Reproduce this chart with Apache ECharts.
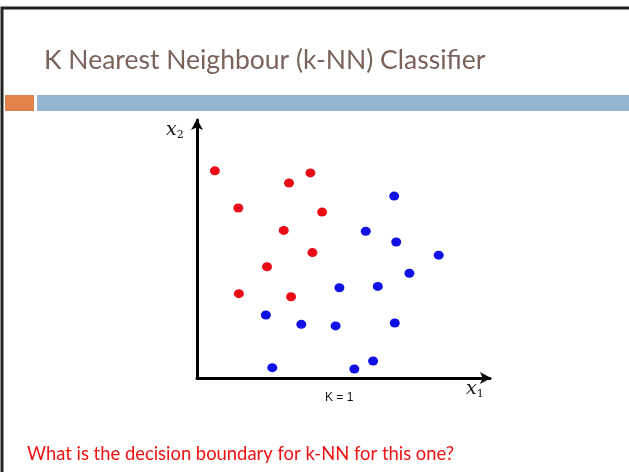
<!DOCTYPE html>
<html>
<head>
<meta charset="utf-8">
<script src="https://cdn.jsdelivr.net/npm/echarts@6/dist/echarts.min.js"></script>
<style>
    html, body { margin: 0; padding: 0; background: #fff; }
    #chart { width: 629px; height: 472px; }
</style>
</head>
<body>
<div id="chart"></div>
<script>
// points, in axis units (0..100 on both axes)
const redPoints = [
    [6.1, 80.3], [14.1, 65.9], [31.4, 75.6], [38.7, 79.5], [42.7, 64.3],
    [29.6, 57.2], [39.4, 48.6], [23.9, 43.1], [14.3, 32.7], [32.1, 31.5]
];
const bluePoints = [
    [67.3, 70.5], [57.6, 56.9], [68.0, 52.7], [82.5, 47.6], [72.5, 40.6],
    [48.6, 35.0], [61.7, 35.5], [23.5, 24.4], [35.6, 20.8], [47.3, 20.2],
    [67.5, 21.3], [25.7, 4.0], [53.7, 3.5], [60.1, 6.6]
];
const titleText = "K Nearest Neighbour (k-NN) Classifier";
const kLabel = "K = 1";
const questionText = "What is the decision boundary for k-NN for this one?";

const chart = echarts.init(document.getElementById("chart"));

const axisLine = {
    show: true,
    symbol: ["none", "arrow"],
    symbolSize: [9, 11],
    symbolOffset: [0, 1],
    lineStyle: { color: "#000", width: 3 }
};

const mathRich = {
    v: { fontFamily: "DejaVu Serif", fontStyle: "italic", fontSize: 19, fill: "#111" },
    s: { fontFamily: "DejaVu Serif", fontSize: 11, fill: "#111", padding: [9, 0, 0, 0] }
};

chart.setOption({
    animation: false,
    backgroundColor: "#fff",
    title: {
        text: titleText,
        left: 39,
        top: 42,
        textStyle: {
            fontFamily: "Lato",
            fontWeight: "normal",
            fontSize: 26.5,
            color: "#7a635a"
        }
    },
    grid: { left: 197, right: 139, top: 120, bottom: 94 },
    xAxis: {
        type: "value",
        min: 0,
        max: 100,
        axisLine,
        axisTick: { show: false },
        axisLabel: { show: false },
        splitLine: { show: false }
    },
    yAxis: {
        type: "value",
        min: 0,
        max: 100,
        axisLine,
        axisTick: { show: false },
        axisLabel: { show: false },
        splitLine: { show: false }
    },
    series: [
        {
            type: "scatter",
            data: redPoints,
            symbol: "circle",
            symbolSize: [10, 9],
            itemStyle: { color: "#ea0b17", opacity: 1 }
        },
        {
            type: "scatter",
            data: bluePoints,
            symbol: "circle",
            symbolSize: [10, 9],
            itemStyle: { color: "#1010e4", opacity: 1 }
        }
    ],
    graphic: [
        {
            type: "rect",
            shape: { x: 2, y: 8, width: 700, height: 500 },
            style: { fill: "none", stroke: "#222", lineWidth: 3 },
            silent: true
        },
        {
            type: "rect",
            shape: { x: 5, y: 95, width: 29, height: 16 },
            style: { fill: "#e0824a" }
        },
        {
            type: "rect",
            shape: { x: 37, y: 95, width: 600, height: 16 },
            style: { fill: "#95b5d3" }
        },
        {
            type: "text",
            left: 166,
            top: 121,
            style: { text: "{v|x}{s|2}", rich: mathRich }
        },
        {
            type: "text",
            left: 466,
            top: 380,
            style: { text: "{v|x}{s|1}", rich: mathRich }
        },
        {
            type: "text",
            left: 325,
            top: 392,
            style: { text: kLabel, fontFamily: "Liberation Sans", fontSize: 12, fill: "#111" }
        },
        {
            type: "text",
            left: 27,
            top: 445,
            style: { text: questionText, fontFamily: "Lato", fontSize: 18.4, fill: "#ee1111" }
        }
    ]
});
</script>
</body>
</html>
